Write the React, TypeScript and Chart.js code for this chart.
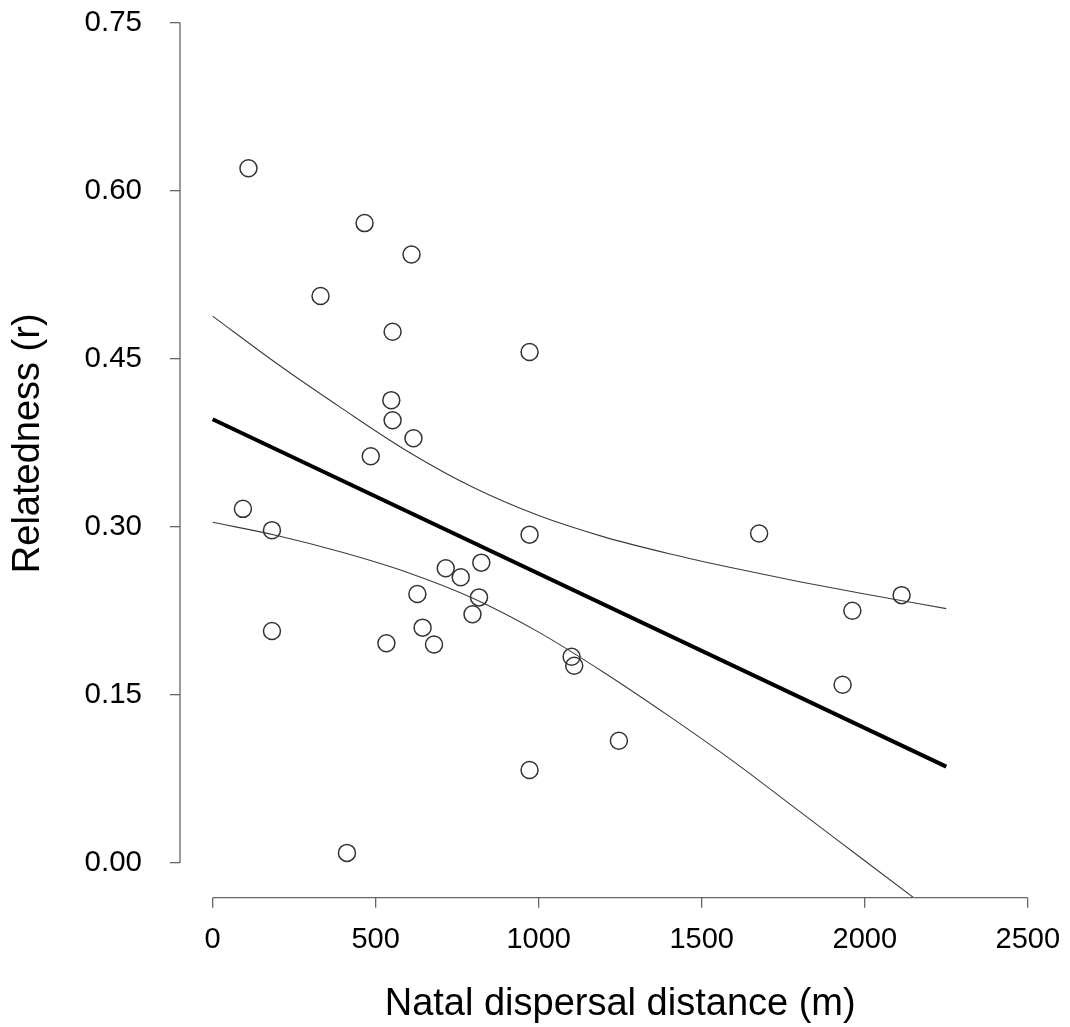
import React, { useEffect, useRef } from "react";
import { Chart, registerables } from "chart.js";

Chart.register(...registerables);

// Observed data: natal dispersal distance (m) vs relatedness (r)
const distance = [
  110, 466, 610, 331, 552, 972, 548, 552, 616, 485, 93, 182, 972, 1676, 2113, 1962,
  182, 715, 761, 824, 628, 817, 797, 644, 533, 679, 1101, 1109, 1932, 1246, 972, 412,
];
const relatedness = [
  0.620, 0.571, 0.543, 0.506, 0.474, 0.456, 0.413, 0.395, 0.379, 0.363, 0.316, 0.297, 0.293, 0.294, 0.239, 0.225,
  0.207, 0.263, 0.255, 0.268, 0.240, 0.237, 0.222, 0.210, 0.196, 0.195, 0.184, 0.176, 0.159, 0.109, 0.083, 0.009,
];

// Fitted regression line
const fitX = [0, 2250];
const fitY = [0.396, 0.086];

// Confidence band
const bandX = [0, 200, 400, 600, 800, 1000, 1200, 1400, 1600, 1800, 2000, 2250];
const upperBand = [0.488, 0.445, 0.405, 0.367, 0.335, 0.310, 0.291, 0.276, 0.263, 0.251, 0.240, 0.227];
const lowerBand = [0.304, 0.292, 0.277, 0.259, 0.236, 0.206, 0.170, 0.131, 0.090, 0.046, 0.002, -0.053];

// Axis ticks
const xTicks = [0, 500, 1000, 1500, 2000, 2500];
const yTicks = [0, 0.15, 0.3, 0.45, 0.6, 0.75];

const xTitle = "Natal dispersal distance (m)";
const yTitle = "Relatedness (r)";

const AXIS_COLOR = "#666666";
const FONT = "'Liberation Sans', Arial, Helvetica, sans-serif";

// The plot region extends slightly above the visible page (as in the source figure),
// so the canvas is made taller and shifted up.
const SHIFT = 40;
const CANVAS_W = 1070;
const CANVAS_H = 1027 + SHIFT;
const TOP_PAD = SHIFT - 11.1;

const axisLines = {
  id: "axisLines",
  afterDraw(chart: any) {
    const { ctx, chartArea, scales } = chart;
    const x = scales.x;
    const y = scales.y;
    ctx.save();
    ctx.strokeStyle = AXIS_COLOR;
    ctx.lineWidth = 1.3;
    ctx.beginPath();
    ctx.moveTo(x.getPixelForValue(xTicks[0]), chartArea.bottom);
    ctx.lineTo(x.getPixelForValue(xTicks[xTicks.length - 1]), chartArea.bottom);
    ctx.moveTo(chartArea.left, y.getPixelForValue(yTicks[0]));
    ctx.lineTo(chartArea.left, y.getPixelForValue(yTicks[yTicks.length - 1]));
    ctx.stroke();
    ctx.restore();
  },
};

export default function App() {
  const canvasRef = useRef<HTMLCanvasElement | null>(null);

  useEffect(() => {
    const canvas = canvasRef.current;
    if (!canvas) return;

    const points = distance.map((d, i) => ({ x: d, y: relatedness[i] }));
    const fit = fitX.map((d, i) => ({ x: d, y: fitY[i] }));
    const upper = bandX.map((d, i) => ({ x: d, y: upperBand[i] }));
    const lower = bandX.map((d, i) => ({ x: d, y: lowerBand[i] }));

    const chart = new Chart(canvas, {
      type: "scatter",
      data: {
        datasets: [
          {
            label: "observed",
            data: points,
            showLine: false,
            pointStyle: "circle",
            pointRadius: 8.5,
            pointBorderWidth: 1.5,
            pointBackgroundColor: "rgba(255,255,255,0)",
            pointBorderColor: "#333333",
          },
          {
            label: "upper",
            data: upper,
            showLine: true,
            pointRadius: 0,
            borderWidth: 1.1,
            borderColor: "#3c3c3c",
            cubicInterpolationMode: "monotone",
            fill: false,
          },
          {
            label: "lower",
            data: lower,
            showLine: true,
            pointRadius: 0,
            borderWidth: 1.1,
            borderColor: "#3c3c3c",
            cubicInterpolationMode: "monotone",
            fill: false,
          },
          {
            label: "fit",
            data: fit,
            showLine: true,
            pointRadius: 0,
            borderWidth: 4,
            borderColor: "#000000",
            fill: false,
          },
        ],
      } as any,
      options: {
        animation: false,
        responsive: false,
        maintainAspectRatio: false,
        layout: { autoPadding: false, padding: { top: TOP_PAD, right: 9.6, bottom: 0, left: 0 } },
        plugins: {
          legend: { display: false },
          tooltip: { enabled: false },
        },
        scales: {
          x: {
            type: "linear",
            min: -100,
            max: 2600,
            afterBuildTicks: (scale: any) => {
              scale.ticks = xTicks.map((v) => ({ value: v }));
            },
            afterFit: (scale: any) => {
              scale.height = 129.3;
              scale.paddingLeft = 0;
              scale.paddingRight = 0;
            },
            grid: {
              display: true,
              drawOnChartArea: false,
              drawTicks: true,
              tickLength: 10,
              color: AXIS_COLOR,
              lineWidth: 1.3,
            },
            border: { display: false },
            ticks: {
              autoSkip: false,
              maxRotation: 0,
              padding: 15,
              color: "#000",
              font: { family: FONT, size: 29 },
              callback: (v: any) => String(v),
            },
            title: {
              display: true,
              text: xTitle,
              color: "#000",
              font: { family: FONT, size: 38 },
              padding: { top: 0, bottom: 0 },
            },
          },
          y: {
            type: "linear",
            min: -0.031,
            max: 0.78,
            afterBuildTicks: (scale: any) => {
              scale.ticks = yTicks.map((v) => ({ value: v }));
            },
            afterFit: (scale: any) => {
              scale.width = 180;
              scale.paddingTop = 0;
              scale.paddingBottom = 0;
            },
            grid: {
              display: true,
              drawOnChartArea: false,
              drawTicks: true,
              tickLength: 10,
              color: AXIS_COLOR,
              lineWidth: 1.3,
            },
            border: { display: false },
            ticks: {
              autoSkip: false,
              padding: 28,
              color: "#000",
              font: { family: FONT, size: 29.5 },
              callback: (v: any) => Number(v).toFixed(2),
            },
            title: {
              display: true,
              text: yTitle,
              color: "#000",
              font: { family: FONT, size: 38 },
              padding: { top: 6, bottom: 0 },
            },
          },
        },
      } as any,
      plugins: [axisLines],
    });

    return () => {
      chart.destroy();
    };
  }, []);

  return (
    <div style={{ position: "absolute", left: 0, top: 0, width: 1070, height: 1027, overflow: "hidden", background: "#fff" }}>
      <canvas
        ref={canvasRef}
        width={CANVAS_W}
        height={CANVAS_H}
        style={{ display: "block", position: "absolute", left: 0, top: -SHIFT, width: CANVAS_W, height: CANVAS_H }}
      />
    </div>
  );
}
